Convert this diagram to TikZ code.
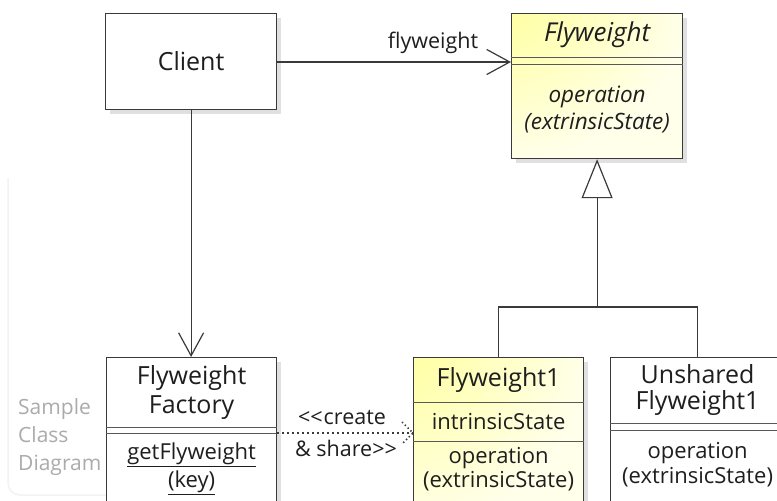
\documentclass[tikz,border=0pt]{standalone}
\usepackage{fontspec}
\setmainfont{Open Sans}
\usetikzlibrary{arrows.meta,shadows,calc}
\definecolor{ln}{HTML}{3A3A3A}
\definecolor{tx}{HTML}{1E1E1E}
\definecolor{yel}{HTML}{FFFF90}
\definecolor{pale}{HTML}{FFFFEA}
\definecolor{lab}{HTML}{ABABAB}
\pgfdeclareradialshading{yelrad}{\pgfpoint{-40bp}{40bp}}{color(0bp)=(yel); color(20bp)=(yel!70!pale); color(55bp)=(pale); color(200bp)=(pale)}
\begin{document}
\begin{tikzpicture}[x=1pt,y=-1pt,
  box/.style={draw=ln, line width=1.2pt, fill=white, anchor=north west, inner sep=0pt,
    drop shadow={shadow xshift=4pt, shadow yshift=-4pt, opacity=0.12, fill=black}},
  yelbox/.style={box, shade, shading=yelrad},
  sep/.style={draw=ln!85, line width=0.8pt},
  cname/.style={text=tx, inner sep=0pt, align=center, font=\fontsize{25}{29}\selectfont},
  member/.style={text=tx, inner sep=0pt, align=center, font=\fontsize{22}{24}\selectfont},
  lbl/.style={text=tx, inner sep=0pt, align=center, font=\fontsize{21.5}{24}\selectfont},
  assoc/.style={draw=ln, line width=1.2pt, -{Straight Barb[length=23pt, width=25pt, line width=1.2pt]}},
  gen/.style={draw=ln, line width=1.2pt, -{Triangle[open, fill=white, length=39pt, width=31pt, line width=1.2pt]}},
  link/.style={draw=ln, line width=1.2pt},
  dep/.style={draw=ln, line width=1.6pt, dash pattern=on 1.6pt off 3.4pt}
]
\useasboundingbox (0,0) rectangle (777,501);
\fill[white] (0,0) rectangle (777,501);

% faint frame
\draw[black!5, line width=1.5pt, rounded corners=12pt] (8,178) -- (8,495) -- (110,495);
\node[anchor=west, inner sep=0pt, text=lab, align=left, font=\fontsize{21}{28}\selectfont] (sample) at (18,437) {Sample\\Class\\Diagram};

% Client
\node[box, minimum width=171, minimum height=96] (client) at (105,13) {};
\node[cname] (clientname) at (client.center) {Client};

% Flyweight (abstract)
\node[yelbox, minimum width=171, minimum height=145] (fw) at (511,13) {};
\node[cname, font=\itshape\fontsize{26}{29}\selectfont] (fwname) at (fw.center |- 0,35) {Flyweight};
\draw[sep] (fw.west |- 0,57) -- (fw.east |- 0,57);
\draw[sep] (fw.west |- 0,64) -- (fw.east |- 0,64);
\node[member, font=\itshape\fontsize{22.5}{27}\selectfont] (fwop) at (fw.center |- 0,109.5) {operation\\(extrinsicState)};

% Flyweight Factory
\node[box, minimum width=170, minimum height=170] (factory) at (106,357) {};
\node[cname] (factoryname) at (factory.center |- 0,392.5) {Flyweight\\Factory};
\draw[sep] (factory.west |- 0,427) -- (factory.east |- 0,427);
\draw[sep] (factory.west |- 0,433) -- (factory.east |- 0,433);
\node[member, font=\fontsize{22}{28}\selectfont] (factoryop) at (factory.center |- 0,469) {\underline{getFlyweight}\\\underline{(key)}};

% Flyweight1
\node[yelbox, minimum width=170, minimum height=170] (fw1) at (413,357) {};
\node[cname] (fw1name) at (fw1.center |- 0,380) {Flyweight1};
\draw[sep] (fw1.west |- 0,402) -- (fw1.east |- 0,402);
\node[member] (fw1state) at (fw1.center |- 0,422) {intrinsicState};
\draw[sep] (fw1.west |- 0,441) -- (fw1.east |- 0,441);
\node[member] (fw1op) at (fw1.center |- 0,469) {operation\\(extrinsicState)};

% Unshared Flyweight1
\node[box, minimum width=174, minimum height=170] (uf) at (610,357) {};
\node[cname, font=\fontsize{25}{26}\selectfont] (ufname) at (uf.center |- 0,390) {Unshared\\Flyweight1};
\draw[sep] (uf.west |- 0,423) -- (uf.east |- 0,423);
\draw[sep] (uf.west |- 0,430) -- (uf.east |- 0,430);
\node[member, font=\fontsize{22}{25}\selectfont] (ufop) at (uf.center |- 0,464.5) {operation\\(extrinsicState)};

% Association Client -> Flyweight
\draw[assoc] (client.east |- 0,62) -- (fw.west |- 0,62);
\node[lbl] (assoclabel) at (433,43) {flyweight};

% Association Client -> Factory
\draw[assoc] (client.south) -- (client.south |- factory.north);

% Dependency Factory -> Flyweight1
\coordinate (deptip) at (fw1.west |- 0,433);
\draw[dep] (factory.east |- deptip) -- (deptip);
\draw[dep, dash pattern=on 1.4pt off 2.6pt] ($(deptip)+(-11,-11)$) -- (deptip) -- ($(deptip)+(-11,11)$);
\node[lbl] (depl1) at (342,418) {<\kern0pt<\kern1pt create};
\node[lbl] (depl2) at (346,448) {\& share>\kern0pt>};

% Generalization
\coordinate (jn) at (fw.south |- 0,307);
\draw[link] (fw1.north) |- (jn) -| (uf.north);
\draw[gen] (jn) -- (fw.south);
\end{tikzpicture}
\end{document}
